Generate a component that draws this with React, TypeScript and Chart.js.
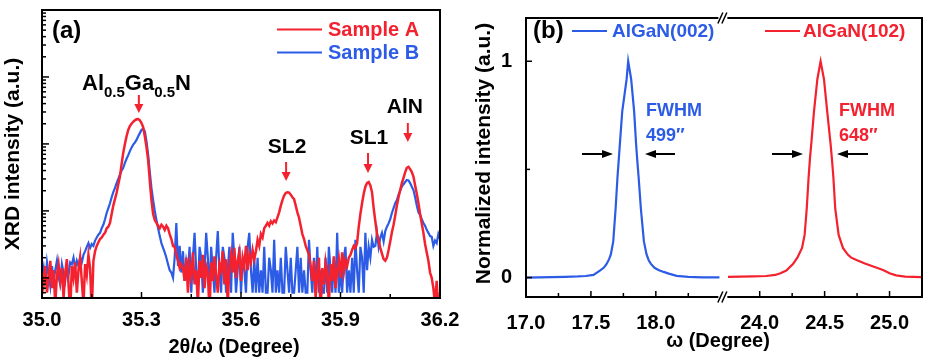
import React, { useEffect, useRef } from 'react';
import { Chart, registerables } from 'chart.js';

Chart.register(...registerables);

const FONT = "'Liberation Sans', Arial, Helvetica, sans-serif";
const RED = '#f4212e';
const BLUE = '#2c5ce6';

// ---------- Panel (a): XRD 2θ/ω scans (log intensity) ----------
const A_START = 35.0;
const A_STEP = 0.005;
const A_X_TICKS = [35.0, 35.3, 35.6, 35.9, 36.2];
const A_X_MINOR = [35.15, 35.45, 35.75, 36.05];
const A_Y_MIN = 5;
const A_Y_MAX = 100000;

const SAMPLE_A = [
  12, 8, 15, 6, 10, 18, 7, 13, 4, 11, 16, 9, 14, 5, 12, 19, 8, 3, 15, 10, 17, 6, 13, 20, 9, 4, 16, 11, 22, 14, 3,
  18, 25, 30, 34, 38,
  40, 44, 47, 55,
  58, 66, 90,
  120, 150, 186,
  250, 325, 500,
  740,
  1000, 1300, 1620,
  1850, 2000, 2140,
  2250, 2330, 2350,
  2250, 2050, 1780,
  1300, 900, 575,
  280, 145,
  90, 73,
  66, 60, 55, 62, 58, 52, 60,
  55, 45, 38, 30, 29,
  22, 18, 14, 16,
  14, 9, 20, 6, 16, 11, 24, 8, 13, 4, 18, 10, 22, 7, 15, 12, 3, 17, 9, 21, 11, 6, 16, 13, 25, 8, 19, 4, 14, 22, 12, 28, 10, 18, 24, 9, 20, 15, 30, 13, 22, 17, 26, 19,
  25, 37, 30, 45, 40, 55, 60, 66,
  60, 70, 65, 72, 68, 80, 95,
  120, 145, 170, 185, 190,
  188, 175, 160, 150,
  120, 95, 79, 60,
  45, 38, 30, 26,
  22, 15, 9, 18, 5, 12, 20, 3, 14, 8, 17, 11, 4, 16, 9, 21, 7, 13, 19, 10, 24, 12, 18, 15, 20,
  22, 26, 30, 28, 33,
  58, 90, 130,
  180, 230, 260,
  270, 240, 190,
  110, 70, 45,
  36, 28, 23, 19,
  18, 20, 26,
  35, 48, 62,
  85, 120, 160,
  205, 260, 310,
  380, 440, 455,
  420, 380, 325,
  240, 180, 130,
  90, 65, 47,
  32, 24, 18,
  12, 10, 7,
  4, 9, 3, 6,
];

const SAMPLE_B = [
  10, 14, 8, 17, 11, 7.5, 15, 9, 13, 18, 10, 8, 16, 12, 9, 14, 11, 17,
  16, 20, 14, 18, 15, 20, 17, 22,
  25, 29, 33, 28, 32, 30,
  36, 40, 44, 47,
  55, 62, 75, 93,
  110, 130, 160,
  190, 220, 260,
  300, 350, 400,
  440, 520, 600,
  680, 780, 880,
  980, 1050, 1150,
  1300, 1450, 1620,
  1680,
  1550, 1100,
  700, 380,
  220, 145,
  100, 73,
  55, 42, 33,
  28, 24, 20,
  16, 13, 12, 10,
  20, 66, 15, 30, 12, 25, 9, 18,
  13, 29, 6, 20, 47, 13, 6, 29, 20, 6, 13, 47, 20, 6, 29, 13, 6, 20, 50, 13, 6, 29, 20, 6, 13, 29, 6, 47, 20, 6, 13, 29, 6, 20, 13, 6, 29, 47, 13, 6, 20,
  6, 20, 6, 13, 6, 29, 6, 6, 20, 13, 6, 37, 6, 13, 6, 20, 6, 6, 29, 13, 6, 20, 6, 6, 13, 29, 6, 20, 6, 13, 6, 6, 37, 13, 6, 20, 6, 29, 6, 13, 6, 6, 20, 6, 29, 13, 6, 20, 6, 47, 6, 13, 6, 20, 29, 6, 13, 6, 20, 6, 37, 13, 6, 29, 20, 6, 47, 13, 29, 20, 37, 29,
  30, 47, 29, 40, 47, 35, 50,
  58, 65, 75,
  93, 110, 130,
  145, 175, 200,
  230, 250, 270,
  290, 285, 260,
  230, 205, 160,
  120, 95, 87,
  75, 66, 60,
  52, 47, 42,
  41, 30, 36,
  33, 45, 38,
];

// peak markers (x in 2θ/ω degrees)
const A_PEAK_MAIN = 35.292;
const A_PEAKS = [
  { text: 'SL2', at: 35.736 },
  { text: 'SL1', at: 35.983 },
  { text: 'AlN', at: 36.103 },
];

// ---------- Panel (b): rocking curves (broken ω axis) ----------
const B_BREAK_LO = 18.52;
const B_BREAK_HI = 23.72;
const B_X_MAX = 25.25;
const B_X_TICKS = [17.0, 17.5, 18.0, 24.0, 24.5, 25.0];
const B_X_MINOR = [17.25, 17.75, 18.25, 24.25, 24.75];
const B_Y_TICKS = [0, 1];
const B_Y_MINOR = [0.5];

const B_002_X = [17.0, 17.1, 17.2, 17.3, 17.4, 17.46, 17.52, 17.569, 17.6, 17.621, 17.64, 17.654, 17.672, 17.69, 17.705, 17.715, 17.723, 17.741, 17.775, 17.787, 17.81, 17.833, 17.848, 17.856, 17.867, 17.885, 17.908, 17.928, 17.945, 17.962, 17.99, 18.02, 18.06, 18.1, 18.16, 18.25, 18.36, 18.49];
const B_002_Y = [0.0, 0.001, 0.002, 0.003, 0.005, 0.007, 0.012, 0.032, 0.046, 0.063, 0.085, 0.108, 0.167, 0.317, 0.467, 0.55, 0.617, 0.767, 0.917, 1.0, 0.917, 0.767, 0.617, 0.55, 0.467, 0.317, 0.167, 0.108, 0.08, 0.063, 0.045, 0.035, 0.026, 0.018, 0.008, 0.003, 0.001, 0.001];

const B_102_X = [23.756, 23.85, 23.95, 24.05, 24.12, 24.16, 24.205, 24.256, 24.29, 24.326, 24.346, 24.362, 24.377, 24.387, 24.397, 24.418, 24.444, 24.469, 24.495, 24.52, 24.546, 24.556, 24.567, 24.582, 24.608, 24.641, 24.68, 24.705, 24.75, 24.81, 24.88, 24.95, 25.0, 25.05, 25.12, 25.245];
const B_102_Y = [0.003, 0.004, 0.005, 0.007, 0.012, 0.02, 0.032, 0.062, 0.092, 0.137, 0.197, 0.317, 0.467, 0.55, 0.617, 0.767, 0.917, 1.0, 0.917, 0.767, 0.617, 0.55, 0.467, 0.317, 0.197, 0.137, 0.105, 0.092, 0.08, 0.065, 0.05, 0.035, 0.02, 0.01, 0.004, 0.002];

const GAP = B_BREAK_HI - B_BREAK_LO;
const toAxis = (w: number) => (w >= B_BREAK_HI ? w - GAP : w);
const fromAxis = (v: number) => (v > B_BREAK_LO + 1e-6 ? v + GAP : v);

const font = (size: number) => `bold ${size}px ${FONT}`;

function text(ctx: CanvasRenderingContext2D, s: string, x: number, y: number, size: number, color: string, align: CanvasTextAlign = 'left', baseline: CanvasTextBaseline = 'middle') {
  ctx.font = font(size);
  ctx.fillStyle = color;
  ctx.textAlign = align;
  ctx.textBaseline = baseline;
  ctx.fillText(s, x, y);
}

function vtext(ctx: CanvasRenderingContext2D, s: string, x: number, y: number, size: number) {
  ctx.save();
  ctx.translate(x, y);
  ctx.rotate(-Math.PI / 2);
  text(ctx, s, 0, 0, size, '#000', 'center', 'middle');
  ctx.restore();
}

function seg(ctx: CanvasRenderingContext2D, x1: number, y1: number, x2: number, y2: number) {
  ctx.beginPath();
  ctx.moveTo(x1, y1);
  ctx.lineTo(x2, y2);
  ctx.stroke();
}

function arrowDown(ctx: CanvasRenderingContext2D, x: number, y0: number, y1: number, color: string) {
  const head = 9, hw = 4.5;
  ctx.strokeStyle = color;
  ctx.fillStyle = color;
  ctx.lineWidth = 2;
  seg(ctx, x, y0, x, y1 - head + 1);
  ctx.beginPath();
  ctx.moveTo(x - hw, y1 - head);
  ctx.lineTo(x + hw, y1 - head);
  ctx.lineTo(x, y1);
  ctx.closePath();
  ctx.fill();
}

function arrowH(ctx: CanvasRenderingContext2D, xFrom: number, xTo: number, y: number) {
  const dir = xTo > xFrom ? 1 : -1;
  const head = 11, hw = 4;
  ctx.strokeStyle = '#000';
  ctx.fillStyle = '#000';
  ctx.lineWidth = 2;
  seg(ctx, xFrom, y, xTo - dir * (head - 1), y);
  ctx.beginPath();
  ctx.moveTo(xTo - dir * head, y - hw);
  ctx.lineTo(xTo, y);
  ctx.lineTo(xTo - dir * head, y + hw);
  ctx.closePath();
  ctx.fill();
}

const panelAPlugin = {
  id: 'panelA',
  afterDraw(chart: any) {
    const ctx: CanvasRenderingContext2D = chart.ctx;
    const a = chart.chartArea;
    const xs = chart.scales.x;
    const ys = chart.scales.y;
    ctx.save();
    ctx.strokeStyle = '#000';
    ctx.lineWidth = 1.5;
    A_X_TICKS.forEach((v) => { const p = xs.getPixelForValue(v); seg(ctx, p, a.bottom, p, a.bottom - 6); });
    A_X_MINOR.forEach((v) => { const p = xs.getPixelForValue(v); seg(ctx, p, a.bottom, p, a.bottom - 4); });
    for (let e = 0; e <= 5; e++) {
      for (let m = 1; m <= 9; m++) {
        const v = m * Math.pow(10, e);
        if (v < A_Y_MIN || v >= A_Y_MAX) continue;
        const p = ys.getPixelForValue(v);
        seg(ctx, a.left, p, a.left + (m === 1 ? 7 : 4), p);
      }
    }
    ctx.lineWidth = 2;
    ctx.strokeRect(a.left, a.top, a.right - a.left, a.bottom - a.top);

    // panel label
    text(ctx, '(a)', 52, 31, 24, '#000');

    // legend
    const ds = chart.data.datasets;
    ctx.lineWidth = 2;
    ctx.strokeStyle = ds[0].borderColor;
    seg(ctx, 277, 29.5, 322, 29.5);
    text(ctx, ds[0].label, 328, 30.5, 20, ds[0].borderColor);
    ctx.strokeStyle = ds[1].borderColor;
    seg(ctx, 277, 52.5, 322, 52.5);
    text(ctx, ds[1].label, 328, 53.5, 20, ds[1].borderColor);

    // Al0.5Ga0.5N label
    let x = 82;
    const parts: [string, number, number][] = [['Al', 22, 0], ['0.5', 15, 7], ['Ga', 22, 0], ['0.5', 15, 7], ['N', 22, 0]];
    parts.forEach(([t, size, dy]) => {
      text(ctx, t, x, 90 + dy, size, '#000', 'left', 'alphabetic');
      x += ctx.measureText(t).width;
    });
    arrowDown(ctx, xs.getPixelForValue(A_PEAK_MAIN), 95, 113, RED);

    const place = [
      { ty: 147, y0: 162, y1: 181, dx: 1 },
      { ty: 138.5, y0: 153, y1: 173, dx: 1 },
      { ty: 107.5, y0: 123, y1: 142, dx: -3 },
    ];
    A_PEAKS.forEach((pk, i) => {
      const px = xs.getPixelForValue(pk.at);
      text(ctx, pk.text, px + place[i].dx, place[i].ty, 21, '#000', 'center');
      arrowDown(ctx, px, place[i].y0, place[i].y1, RED);
    });

    // axis titles
    vtext(ctx, 'XRD intensity (a.u.)', 13, 154, 21);
    text(ctx, '2θ/ω (Degree)', 234, 347, 20, '#000', 'center');
    ctx.restore();
  },
};

const panelBPlugin = {
  id: 'panelB',
  afterDraw(chart: any) {
    const ctx: CanvasRenderingContext2D = chart.ctx;
    const a = chart.chartArea;
    const xs = chart.scales.x;
    const ys = chart.scales.y;
    ctx.save();
    ctx.strokeStyle = '#000';
    ctx.lineWidth = 1.5;
    B_X_TICKS.forEach((w) => { const p = xs.getPixelForValue(toAxis(w)); seg(ctx, p, a.bottom, p, a.bottom - 6); });
    B_X_MINOR.forEach((w) => { const p = xs.getPixelForValue(toAxis(w)); seg(ctx, p, a.bottom, p, a.bottom - 4); });
    B_Y_TICKS.forEach((v) => { const p = ys.getPixelForValue(v); seg(ctx, a.left, p, a.left + 6, p); });
    B_Y_MINOR.forEach((v) => { const p = ys.getPixelForValue(v); seg(ctx, a.left, p, a.left + 4, p); });

    // frame with axis break
    const bp = xs.getPixelForValue(B_BREAK_LO);
    ctx.lineWidth = 2;
    seg(ctx, a.left, a.top - 1, a.left, a.bottom + 1);
    seg(ctx, a.right, a.top - 1, a.right, a.bottom + 1);
    [a.top, a.bottom].forEach((y) => {
      seg(ctx, a.left, y, bp - 5, y);
      seg(ctx, bp + 4, y, a.right, y);
      ctx.lineWidth = 1.5;
      seg(ctx, bp - 5.5, y + 5.5, bp - 0.5, y - 5.5);
      seg(ctx, bp - 1.5, y + 5.5, bp + 3.5, y - 5.5);
      ctx.lineWidth = 2;
    });

    text(ctx, '(b)', 69, 31, 24, '#000');

    const ds = chart.data.datasets;
    ctx.lineWidth = 2;
    ctx.strokeStyle = ds[0].borderColor;
    seg(ctx, 108, 31, 143, 31);
    text(ctx, ds[0].label, 148, 31.5, 19, ds[0].borderColor);
    ctx.strokeStyle = ds[1].borderColor;
    seg(ctx, 301, 31, 336, 31);
    text(ctx, ds[1].label, 339, 31.5, 19, ds[1].borderColor);

    text(ctx, 'FWHM', 182, 111, 18, BLUE);
    text(ctx, '499″', 182, 136, 18, BLUE);
    text(ctx, 'FWHM', 375, 111, 18, RED);
    text(ctx, '648″', 375, 136, 18, RED);

    arrowH(ctx, 118, 149, 154);
    arrowH(ctx, 211, 181, 154);
    arrowH(ctx, 308, 339, 154);
    arrowH(ctx, 404, 373, 154);

    vtext(ctx, 'Normalized intensity (a.u.)', 20, 153.5, 21);
    text(ctx, 'ω (Degree)', 254, 341, 20, '#000', 'center');
    ctx.restore();
  },
};

export default function App() {
  const refA = useRef<HTMLCanvasElement | null>(null);
  const refB = useRef<HTMLCanvasElement | null>(null);

  useEffect(() => {
    const tickFont = { family: FONT, size: 20, weight: 'bold' as const };
    const chartA = new Chart(refA.current as HTMLCanvasElement, {
      type: 'line',
      data: {
        datasets: [
          { label: 'Sample A', data: SAMPLE_A.map((y, i) => ({ x: A_START + i * A_STEP, y })), borderColor: RED, borderWidth: 2.5, pointRadius: 0, tension: 0, fill: false },
          { label: 'Sample B', data: SAMPLE_B.map((y, i) => ({ x: A_START + i * A_STEP, y })), borderColor: BLUE, borderWidth: 2.2, pointRadius: 0, tension: 0, fill: false },
        ],
      },
      options: {
        animation: false,
        responsive: false,
        events: [],
        layout: { padding: { left: 0, right: 24, top: 10, bottom: 0 } },
        plugins: { legend: { display: false }, tooltip: { enabled: false } },
        scales: {
          x: {
            type: 'linear', min: A_X_TICKS[0], max: A_X_TICKS[A_X_TICKS.length - 1],
            grid: { display: false }, border: { display: false },
            afterBuildTicks: (s: any) => { s.ticks = A_X_TICKS.map((v) => ({ value: v })); },
            afterFit: (s: any) => { s.height = 63; },
            ticks: { padding: 2, color: '#000', font: tickFont, autoSkip: false, maxRotation: 0, callback: (v: any) => Number(v).toFixed(1) },
          },
          y: {
            type: 'logarithmic', min: A_Y_MIN, max: A_Y_MAX,
            grid: { display: false }, border: { display: false },
            ticks: { display: false },
            afterFit: (s: any) => { s.width = 42; },
          },
        },
      } as any,
      plugins: [panelAPlugin],
    });

    const chartB = new Chart(refB.current as HTMLCanvasElement, {
      type: 'line',
      data: {
        datasets: [
          { label: 'AlGaN(002)', data: B_002_X.map((w, i) => ({ x: toAxis(w), y: B_002_Y[i] })), borderColor: BLUE, borderWidth: 2.2, pointRadius: 0, tension: 0, fill: false },
          { label: 'AlGaN(102)', data: B_102_X.map((w, i) => ({ x: toAxis(w), y: B_102_Y[i] })), borderColor: RED, borderWidth: 2.2, pointRadius: 0, tension: 0, fill: false },
        ],
      },
      options: {
        animation: false,
        responsive: false,
        events: [],
        layout: { padding: { left: 0, right: 6, top: 10, bottom: 0 } },
        plugins: { legend: { display: false }, tooltip: { enabled: false } },
        scales: {
          x: {
            type: 'linear', min: 17.0, max: toAxis(B_X_MAX),
            grid: { display: false }, border: { display: false },
            afterBuildTicks: (s: any) => { s.ticks = B_X_TICKS.map((w) => ({ value: toAxis(w) })); },
            afterFit: (s: any) => { s.height = 64; },
            ticks: { padding: 6, color: '#000', font: tickFont, autoSkip: false, maxRotation: 0, callback: (v: any) => fromAxis(Number(v)).toFixed(1) },
          },
          y: {
            type: 'linear', min: -0.09, max: 1.2,
            grid: { display: false }, border: { display: false },
            afterBuildTicks: (s: any) => { s.ticks = B_Y_TICKS.map((v) => ({ value: v })); },
            afterFit: (s: any) => { s.width = 62; },
            ticks: { padding: 6, color: '#000', font: tickFont, callback: (v: any) => String(v) },
          },
        },
      } as any,
      plugins: [panelBPlugin],
    });

    return () => {
      chartA.destroy();
      chartB.destroy();
    };
  }, []);

  return (
    <div style={{ position: 'fixed', left: 0, top: 0, width: 928, height: 361, background: '#fff' }}>
      <canvas ref={refA} width={464} height={361} style={{ position: 'absolute', left: 0, top: 0, width: 464, height: 361 }} />
      <canvas ref={refB} width={464} height={361} style={{ position: 'absolute', left: 464, top: 0, width: 464, height: 361 }} />
    </div>
  );
}
